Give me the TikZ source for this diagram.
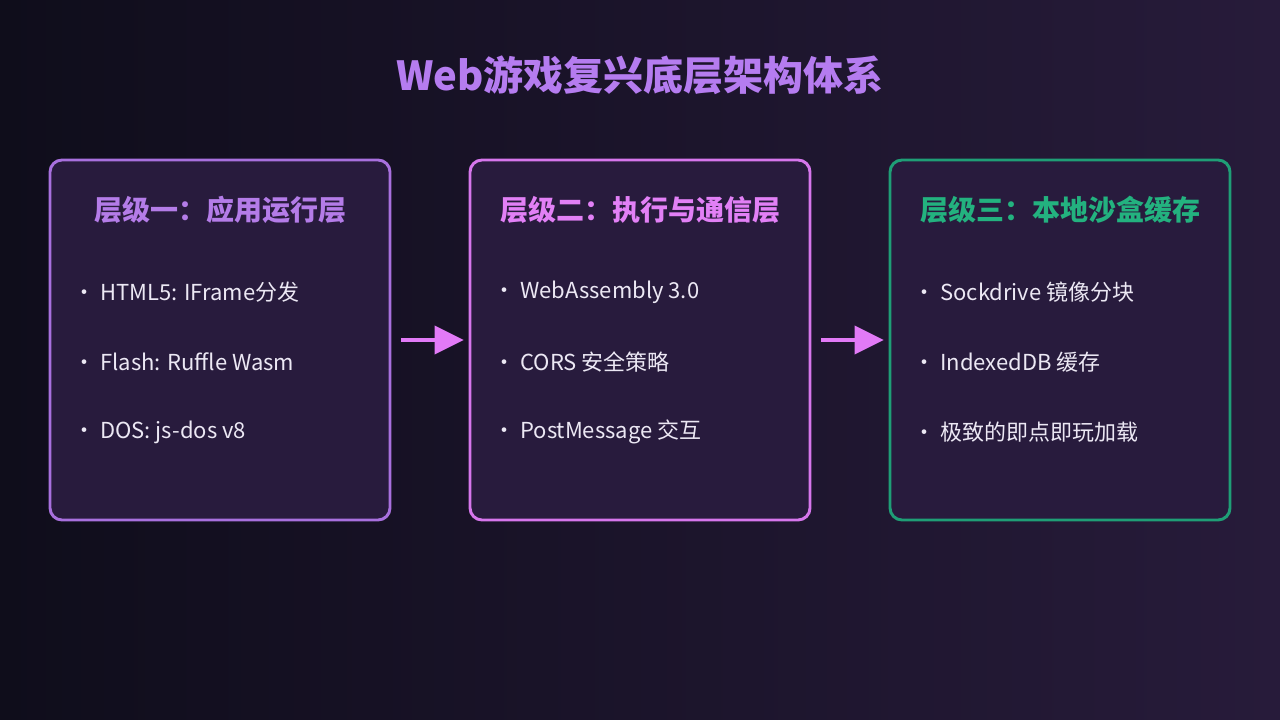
\documentclass[tikz,border=0pt]{standalone}
\usepackage{fontspec}
\setmainfont{Noto Sans CJK SC}
\usepackage{tikz}
\usetikzlibrary{arrows.meta, positioning, calc}
\usepackage{xcolor}
\definecolor{bgleft}{RGB}{15,13,27}
\definecolor{bgright}{RGB}{39,27,58}
\definecolor{boxfill}{RGB}{40,27,61}
\definecolor{headpurple}{RGB}{181,124,240}
\definecolor{layerone}{RGB}{168,112,222}
\definecolor{layeronetext}{RGB}{180,124,232}
\definecolor{layertwo}{RGB}{214,118,236}
\definecolor{layertwotext}{RGB}{226,128,246}
\definecolor{layerthree}{RGB}{31,158,118}
\definecolor{layerthreetext}{RGB}{35,178,127}
\definecolor{flowpink}{RGB}{226,122,247}
\definecolor{itemtext}{RGB}{236,232,244}

\begin{document}
\begin{tikzpicture}[x=0.75pt, y=-0.75pt,
    layerbox/.style={draw, line width=2.2pt, fill=boxfill, rounded corners=9pt, minimum width=255pt, minimum height=270pt},
    layertitle/.style={font=\bfseries\fontsize{21}{25}\selectfont},
    item/.style={anchor=west, text=itemtext, inner sep=0pt, font=\fontsize{16.5}{20}\selectfont},
    flow/.style={draw=flowpink, line width=3pt, -{Triangle[length=22pt, width=21pt]}, shorten <=7.5pt, shorten >=3.5pt}]
  % Background
  \shade[left color=bgleft, right color=bgright] (0,0) rectangle (1280,720);
  \useasboundingbox (0,0) rectangle (1280,720);

  % Heading
  \node[text=headpurple, font=\bfseries\fontsize{30}{36}\selectfont] (head) at (640,75) {Web游戏复兴底层架构体系};

  % Layer boxes
  \node[layerbox, draw=layerone] (lay1) at (220,340) {};
  \node[layerbox, draw=layertwo] (lay2) at (640,340) {};
  \node[layerbox, draw=layerthree] (lay3) at (1060,340) {};

  % Layer titles
  \node[layertitle, text=layeronetext] (t1) at (220,210) {层级一：应用运行层};
  \node[layertitle, text=layertwotext] (t2) at (640,210) {层级二：执行与通信层};
  \node[layertitle, text=layerthreetext] (t3) at (1060,210) {层级三：本地沙盒缓存};

  % Layer one items
  \node[item] (a1) at (73,292) {•\hspace{3.8pt}HTML5: IFrame分发};
  \node[item] (a2) at (73,362) {•\hspace{3.8pt}Flash: Ruffle Wasm};
  \node[item] (a3) at (73,432) {•\hspace{3.8pt}DOS: js-dos v8};

  % Layer two items
  \node[item] (b1) at (493,292) {•\hspace{3.8pt}WebAssembly 3.0};
  \node[item] (b2) at (493,362) {•\hspace{3.8pt}CORS 安全策略};
  \node[item] (b3) at (493,432) {•\hspace{3.8pt}PostMessage 交互};

  % Layer three items
  \node[item] (c1) at (913,292) {•\hspace{3.8pt}Sockdrive 镜像分块};
  \node[item] (c2) at (913,362) {•\hspace{3.8pt}IndexedDB 缓存};
  \node[item] (c3) at (913,432) {•\hspace{3.8pt}极致的即点即玩加载};

  % Flow arrows
  \draw[flow] (lay1) -- (lay2);
  \draw[flow] (lay2) -- (lay3);
\end{tikzpicture}
\end{document}
